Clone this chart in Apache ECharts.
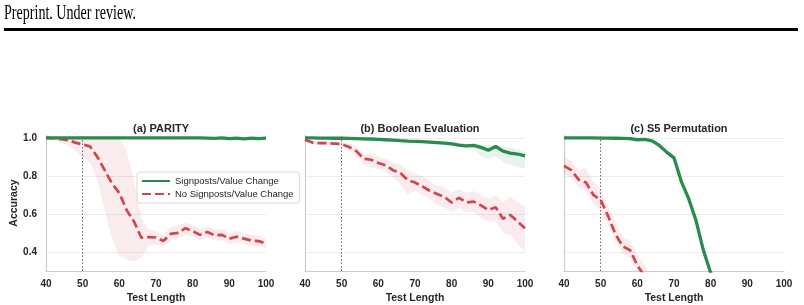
<!DOCTYPE html>
<html>
<head>
<meta charset="utf-8">
<script src="https://cdn.jsdelivr.net/npm/echarts@6/dist/echarts.min.js"></script>
<style>
  html, body { margin: 0; padding: 0; background: #fff; }
  #main { width: 804px; height: 305px; }
</style>
</head>
<body>
<div id="main"></div>
<script>
// test lengths (x axis)
var lengths = [40, 42, 44, 46, 48, 50, 52, 54, 56, 58, 60, 62, 64, 66, 68, 70,
  72, 74, 76, 78, 80, 82, 84, 86, 88, 90, 92, 94, 96, 98, 100];
var xTicks = [40, 50, 60, 70, 80, 90, 100];
var yTicks = [0.4, 0.6, 0.8, 1.0];
var titles = ['(a) PARITY', '(b) Boolean Evaluation', '(c) S5 Permutation'];
var seriesNames = ['Signposts/Value Change', 'No Signposts/Value Change'];

// (a) parity
var parityYes = [1, 1, 1, 1, 1, 1, 1, 1, 1, 1, 1, 1, 1, 1, 1, 1,
  1, 1, 1, 1, 1, 1, 0.999, 0.997, 1, 0.996, 0.999, 0.995, 0.999, 0.996, 0.999];
var parityYesLo = [0.998, 0.998, 0.998, 0.998, 0.998, 0.998, 0.998, 0.998, 0.998, 0.998, 0.998, 0.998, 0.998, 0.998, 0.998, 0.998,
  0.998, 0.998, 0.998, 0.998, 0.997, 0.997, 0.995, 0.993, 0.995, 0.991, 0.994, 0.99, 0.994, 0.991, 0.995];
var parityYesHi = [1, 1, 1, 1, 1, 1, 1, 1, 1, 1, 1, 1, 1, 1, 1, 1,
  1, 1, 1, 1, 1, 1, 1, 1, 1, 1, 1, 1, 1, 1, 1];
var parityNo = [1, 0.998, 0.993, 0.988, 0.975, 0.965, 0.955, 0.9, 0.83, 0.76, 0.71, 0.62, 0.56, 0.475, 0.478, 0.476,
  0.458, 0.495, 0.5, 0.525, 0.51, 0.49, 0.505, 0.488, 0.49, 0.47, 0.48, 0.47, 0.46, 0.457, 0.445];
var parityNoLo = [0.995, 0.99, 0.975, 0.96, 0.93, 0.9, 0.87, 0.78, 0.62, 0.47, 0.38, 0.36, 0.35, 0.37, 0.43, 0.44,
  0.43, 0.46, 0.47, 0.49, 0.48, 0.46, 0.475, 0.46, 0.46, 0.44, 0.45, 0.44, 0.43, 0.43, 0.42];
var parityNoHi = [1, 1, 1, 1, 1, 1, 1, 1, 1, 1, 1, 0.93, 0.78, 0.58, 0.52, 0.51,
  0.49, 0.53, 0.54, 0.555, 0.545, 0.52, 0.535, 0.52, 0.52, 0.5, 0.51, 0.5, 0.49, 0.485, 0.47];

// (b) boolean evaluation
var boolYes = [1, 1, 0.999, 0.999, 0.998, 0.998, 0.997, 0.996, 0.995, 0.994, 0.992, 0.99, 0.988, 0.985, 0.983, 0.982,
  0.98, 0.978, 0.975, 0.972, 0.968, 0.962, 0.958, 0.96, 0.95, 0.935, 0.955, 0.93, 0.92, 0.915, 0.905];
var boolYesLo = [0.996, 0.996, 0.995, 0.995, 0.994, 0.994, 0.993, 0.992, 0.991, 0.99, 0.988, 0.986, 0.984, 0.98, 0.978, 0.976,
  0.972, 0.97, 0.966, 0.963, 0.958, 0.952, 0.945, 0.945, 0.905, 0.89, 0.9, 0.875, 0.86, 0.845, 0.84];
var boolYesHi = [1, 1, 1, 1, 1, 1, 1, 1, 0.999, 0.998, 0.996, 0.994, 0.992, 0.99, 0.988, 0.988,
  0.988, 0.986, 0.984, 0.981, 0.978, 0.972, 0.97, 0.968, 0.965, 0.96, 0.965, 0.955, 0.95, 0.94, 0.93];
var boolNo = [0.99, 0.975, 0.972, 0.972, 0.97, 0.967, 0.952, 0.93, 0.89, 0.885, 0.868, 0.856, 0.83, 0.815, 0.778, 0.765,
  0.745, 0.722, 0.705, 0.69, 0.66, 0.685, 0.66, 0.665, 0.645, 0.62, 0.635, 0.575, 0.595, 0.56, 0.525];
var boolNoLo = [0.98, 0.965, 0.962, 0.962, 0.958, 0.955, 0.935, 0.905, 0.86, 0.845, 0.835, 0.82, 0.79, 0.76, 0.7, 0.725,
  0.7, 0.68, 0.65, 0.63, 0.61, 0.63, 0.61, 0.61, 0.58, 0.56, 0.56, 0.5, 0.49, 0.44, 0.4];
var boolNoHi = [1, 0.985, 0.982, 0.982, 0.982, 0.98, 0.968, 0.955, 0.915, 0.92, 0.9, 0.89, 0.87, 0.86, 0.83, 0.81,
  0.8, 0.77, 0.75, 0.74, 0.71, 0.73, 0.71, 0.72, 0.7, 0.68, 0.7, 0.66, 0.69, 0.66, 0.64];

// (c) S5 permutation
var permYes = [1, 1, 1, 1, 1, 0.999, 0.999, 0.998, 0.997, 0.996, 0.99, 0.992, 0.984, 0.96, 0.925, 0.895,
  0.77, 0.68, 0.565, 0.41, 0.29, 0.2, null, null, null, null, null, null, null, null, null];
var permYesLo = [0.997, 0.997, 0.997, 0.997, 0.997, 0.995, 0.995, 0.994, 0.993, 0.992, 0.984, 0.986, 0.976, 0.95, 0.912, 0.882,
  0.755, 0.665, 0.55, 0.395, 0.275, 0.185, null, null, null, null, null, null, null, null, null];
var permYesHi = [1, 1, 1, 1, 1, 1, 1, 1, 1, 0.999, 0.995, 0.997, 0.99, 0.97, 0.937, 0.908,
  0.785, 0.695, 0.58, 0.425, 0.305, 0.215, null, null, null, null, null, null, null, null, null];
var permNo = [0.853, 0.83, 0.78, 0.765, 0.7, 0.674, 0.59, 0.495, 0.43, 0.41, 0.33, 0.27, 0.2, null, null, null,
  null, null, null, null, null, null, null, null, null, null, null, null, null, null, null];
var permNoLo = [0.81, 0.79, 0.74, 0.72, 0.65, 0.62, 0.54, 0.46, 0.39, 0.37, 0.29, 0.22, 0.15, null, null, null,
  null, null, null, null, null, null, null, null, null, null, null, null, null, null, null];
var permNoHi = [0.9, 0.88, 0.83, 0.84, 0.77, 0.73, 0.64, 0.56, 0.48, 0.46, 0.39, 0.33, 0.26, null, null, null,
  null, null, null, null, null, null, null, null, null, null, null, null, null, null, null];

var GREEN = '#2b8a4e';
var RED = '#cf464f';
var FONT = 'Liberation Sans';

var panels = [
  [parityYes, parityYesLo, parityYesHi, parityNo, parityNoLo, parityNoHi],
  [boolYes, boolYesLo, boolYesHi, boolNo, boolNoLo, boolNoHi],
  [permYes, permYesLo, permYesHi, permNo, permNoLo, permNoHi]
];
var gridLefts = [46, 305, 564];

function pairs(vals) {
  return lengths.map(function (x, i) { return [x, vals[i]]; });
}

// shaded band between lo and hi, drawn as one polygon through the axes
function bandSeries(k, lo, hi, color) {
  var rows = [];
  lengths.forEach(function (x, i) {
    if (lo[i] != null) rows.push([x, lo[i], hi[i]]);
  });
  return {
    type: 'custom', xAxisIndex: k, yAxisIndex: k, silent: true, clip: true, z: 1,
    data: rows,
    renderItem: function (params, api) {
      if (params.dataIndex !== 0) return;
      var pts = [];
      rows.forEach(function (r) { pts.push(api.coord([r[0], r[1]])); });
      for (var i = rows.length - 1; i >= 0; i--) pts.push(api.coord([rows[i][0], rows[i][2]]));
      return {
        type: 'polygon', shape: { points: pts },
        style: { fill: color, opacity: 0.1 }
      };
    }
  };
}

var grids = [], xAxes = [], yAxes = [], series = [], titleList = [];
panels.forEach(function (p, k) {
  grids.push({ left: gridLefts[k], width: 220, top: 135, height: 136 });
  titleList.push({
    text: titles[k], left: gridLefts[k] + 110, top: 118, textAlign: 'center',
    textStyle: { fontFamily: FONT, fontSize: 11, fontWeight: 'bold', color: '#262626' }
  });
  xAxes.push({
    type: 'value', gridIndex: k, min: 40, max: 100, interval: 10,
    name: 'Test Length', nameLocation: 'middle', nameGap: 22,
    nameTextStyle: { fontFamily: FONT, fontSize: 10.5, fontWeight: 'bold', color: '#262626' },
    axisLine: { show: true, lineStyle: { color: '#cccccc', width: 1.2 } },
    axisTick: { show: false },
    axisLabel: { margin: 8, fontFamily: FONT, fontSize: 10, fontWeight: 'bold', color: '#262626' },
    splitLine: { show: false }
  });
  yAxes.push({
    type: 'value', gridIndex: k, min: 0.3, max: 1.015,
    name: k === 0 ? 'Accuracy' : '', nameLocation: 'middle', nameGap: 21,
    nameTextStyle: { fontFamily: FONT, fontSize: 10.5, fontWeight: 'bold', color: '#262626' },
    axisLine: { show: true, lineStyle: { color: '#cccccc', width: 1.2 } },
    axisTick: { show: false, customValues: yTicks },
    axisLabel: {
      show: k === 0, customValues: yTicks, margin: 9,
      fontFamily: FONT, fontSize: 10, fontWeight: 'bold', color: '#262626',
      formatter: function (v) { return v.toFixed(1); }
    },
    splitLine: { show: true, lineStyle: { color: '#ededed', width: 1 } }
  });
  series.push(bandSeries(k, p[1], p[2], GREEN));
  series.push(bandSeries(k, p[4], p[5], RED));
  series.push({
    type: 'line', name: seriesNames[0], xAxisIndex: k, yAxisIndex: k,
    data: pairs(p[0]), symbol: 'none', z: 4,
    lineStyle: { color: GREEN, width: 3.3 }, itemStyle: { color: GREEN },
    markLine: {
      silent: true, symbol: ['none', 'none'], label: { show: false },
      lineStyle: { color: '#666', width: 1, type: [1.5, 2] },
      data: [{ xAxis: 50 }]
    }
  });
  series.push({
    type: 'line', name: seriesNames[1], xAxisIndex: k, yAxisIndex: k,
    data: pairs(p[3]), symbol: 'none', z: 3,
    lineStyle: { color: RED, width: 2.7, type: [9, 4] }, itemStyle: { color: RED }
  });
});

var chart = echarts.init(document.getElementById('main'), null, { renderer: 'canvas' });
chart.setOption({
  animation: false,
  backgroundColor: '#ffffff',
  title: titleList,
  grid: grids,
  xAxis: xAxes,
  yAxis: yAxes,
  legend: {
    data: seriesNames, orient: 'vertical', left: 137, top: 172,
    itemWidth: 28, itemHeight: 10, itemGap: 3, padding: [4, 6, 4, 4],
    selectedMode: false,
    itemStyle: { opacity: 0 },
    backgroundColor: '#ffffff', borderColor: '#d9d9d9', borderWidth: 1, borderRadius: 3,
    textStyle: { fontFamily: FONT, fontSize: 9.5, color: '#262626' }
  },
  graphic: [
    {
      type: 'text', left: 4, top: 3, scaleX: 0.67,
      style: { text: 'Preprint. Under review.', font: '21px "Liberation Serif"', fill: '#000' }
    },
    {
      type: 'rect', shape: { x: 4, y: 28, width: 794, height: 3 },
      style: { fill: '#000' }
    }
  ],
  series: series
});
</script>
</body>
</html>
